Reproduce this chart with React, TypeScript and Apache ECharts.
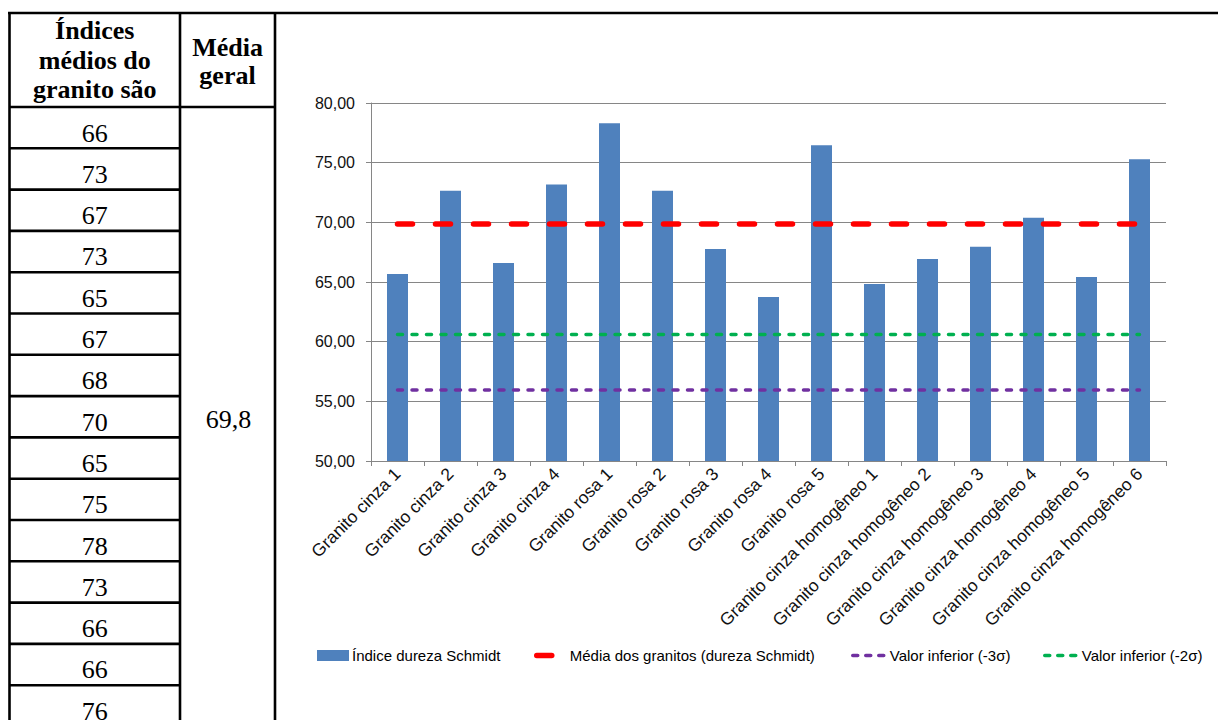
import React, { useEffect, useRef } from "react";
import * as echarts from "echarts";

const categories = [
  "Granito cinza 1",
  "Granito cinza 2",
  "Granito cinza 3",
  "Granito cinza 4",
  "Granito rosa 1",
  "Granito rosa 2",
  "Granito rosa 3",
  "Granito rosa 4",
  "Granito rosa 5",
  "Granito cinza homogêneo 1",
  "Granito cinza homogêneo 2",
  "Granito cinza homogêneo 3",
  "Granito cinza homogêneo 4",
  "Granito cinza homogêneo 5",
  "Granito cinza homogêneo 6",
];

const durezaSchmidt = [65.67, 72.65, 66.59, 73.18, 78.3, 72.65, 67.76, 63.74, 76.45, 64.83, 66.92, 67.96, 70.39, 65.42, 75.28];
const mediaGranitos = [69.87, 69.87, 69.87, 69.87, 69.87, 69.87, 69.87, 69.87, 69.87, 69.87, 69.87, 69.87, 69.87, 69.87, 69.87];
const valorInferior3s = [55.96, 55.96, 55.96, 55.96, 55.96, 55.96, 55.96, 55.96, 55.96, 55.96, 55.96, 55.96, 55.96, 55.96, 55.96];
const valorInferior2s = [60.6, 60.6, 60.6, 60.6, 60.6, 60.6, 60.6, 60.6, 60.6, 60.6, 60.6, 60.6, 60.6, 60.6, 60.6];

const yTicks = { min: 50, max: 80, interval: 5 };

const tableHeader1 = "Índices\nmédios do\ngranito são";
const tableHeader2 = "Média\ngeral";
const tableValues = [66, 73, 67, 73, 65, 67, 68, 70, 65, 75, 78, 73, 66, 66, 76];
const mediaGeral = "69,8";

const seriesNames = [
  "Índice dureza Schmidt",
  "Média dos granitos (dureza Schmidt)",
  "Valor inferior (-3σ)",
  "Valor inferior (-2σ)",
];

const SANS = '"Liberation Sans", Arial, sans-serif';
const SERIF = '"Liberation Serif", "Times New Roman", serif';

export default function App() {
  const ref = useRef<HTMLDivElement>(null);

  useEffect(() => {
    if (!ref.current) return;
    const chart = echarts.init(ref.current, undefined, { renderer: "svg" });

    // table layout
    const tLeft = 9.5;
    const tCol1 = 180;
    const tCol2 = 275;
    const tTop = 13;
    const headerBottom = 107;
    const rowH = 41.3;
    const lineStyle = { stroke: "#000", lineWidth: 2.6 };

    const graphics: any[] = [];
    graphics.push({ type: "line", shape: { x1: 8, y1: tTop, x2: 1218, y2: tTop }, style: lineStyle, silent: true });
    graphics.push({ type: "line", shape: { x1: tLeft, y1: tTop, x2: tLeft, y2: 720 }, style: lineStyle, silent: true });
    graphics.push({ type: "line", shape: { x1: tCol1, y1: tTop, x2: tCol1, y2: 720 }, style: lineStyle, silent: true });
    graphics.push({ type: "line", shape: { x1: tCol2, y1: tTop, x2: tCol2, y2: 720 }, style: lineStyle, silent: true });
    graphics.push({ type: "line", shape: { x1: tLeft, y1: headerBottom, x2: tCol2, y2: headerBottom }, style: lineStyle, silent: true });

    graphics.push({
      type: "text",
      x: (tLeft + tCol1) / 2,
      y: 60,
      style: {
        text: tableHeader1,
        fontFamily: SERIF,
        fontWeight: "bold",
        fontSize: 26,
        lineHeight: 29.5,
        fill: "#000",
        align: "center",
        verticalAlign: "middle",
      },
    });
    graphics.push({
      type: "text",
      x: (tCol1 + tCol2) / 2,
      y: 61,
      style: {
        text: tableHeader2,
        fontFamily: SERIF,
        fontWeight: "bold",
        fontSize: 26,
        lineHeight: 28,
        fill: "#000",
        align: "center",
        verticalAlign: "middle",
      },
    });

    tableValues.forEach((v, i) => {
      const top = headerBottom + i * rowH;
      if (i > 0) {
        graphics.push({ type: "line", shape: { x1: tLeft, y1: top, x2: tCol1, y2: top }, style: lineStyle, silent: true });
      }
      graphics.push({
        type: "text",
        x: (tLeft + tCol1) / 2,
        y: top + 26,
        style: {
          text: String(v),
          fontFamily: SERIF,
          fontSize: 26,
          fill: "#000",
          align: "center",
          verticalAlign: "middle",
        },
      });
    });

    graphics.push({
      type: "text",
      x: (tCol1 + tCol2) / 2 + 1,
      y: 419,
      style: {
        text: mediaGeral,
        fontFamily: SERIF,
        fontSize: 26,
        fill: "#000",
        align: "center",
        verticalAlign: "middle",
      },
    });

    const legendBase = {
      top: 648,
      padding: 0,
      itemGap: 0,
      itemWidth: 32,
      itemHeight: 14,
      textStyle: { fontFamily: SANS, fontSize: 15, color: "#000", padding: [0, 0, 0, -2] },
      selectedMode: false,
    };

    chart.setOption({
      animation: false,
      backgroundColor: "#fff",
      graphic: graphics,
      grid: { left: 371, top: 103, right: 52, bottom: 259, containLabel: false },
      legend: [
        { ...legendBase, left: 317, data: [seriesNames[0]], icon: "rect", itemHeight: 11 },
        {
          ...legendBase,
          left: 534,
          itemWidth: 30,
          data: [seriesNames[1]],
          itemStyle: { opacity: 0 },
          lineStyle: { width: 5.5, type: [15, 23], cap: "round", color: "#FF0000" },
        },
        {
          ...legendBase,
          left: 851,
          itemWidth: 34,
          data: [seriesNames[2]],
          itemStyle: { opacity: 0 },
          lineStyle: { width: 3.5, type: [5, 8], cap: "round", color: "#7030A0" },
        },
        {
          ...legendBase,
          left: 1043,
          itemWidth: 34,
          data: [seriesNames[3]],
          itemStyle: { opacity: 0 },
          lineStyle: { width: 3.5, type: [5, 8], cap: "round", color: "#00B050" },
        },
      ],
      xAxis: {
        type: "category",
        data: categories,
        boundaryGap: true,
        axisLine: { show: true, lineStyle: { color: "#868686", width: 1 } },
        axisTick: { show: true, interval: 0, alignWithLabel: false, length: 5, lineStyle: { color: "#868686" } },
        axisLabel: {
          interval: 0,
          rotate: 45,
          margin: 10,
          fontFamily: SANS,
          fontSize: 17.5,
          color: "#111",
        },
        splitLine: { show: false },
      },
      yAxis: {
        type: "value",
        min: yTicks.min,
        max: yTicks.max,
        interval: yTicks.interval,
        axisLine: { show: true, lineStyle: { color: "#868686", width: 1 } },
        axisTick: { show: true, length: 5, lineStyle: { color: "#868686" } },
        axisLabel: {
          margin: 16,
          fontFamily: SANS,
          fontSize: 16,
          color: "#111",
          formatter: (v: number) => v.toFixed(2).replace(".", ","),
        },
        splitLine: { show: true, lineStyle: { color: "#868686", width: 1 } },
      },
      series: [
        {
          name: seriesNames[0],
          type: "bar",
          data: durezaSchmidt,
          barWidth: 21,
          itemStyle: { color: "#4F81BD" },
        },
        {
          name: seriesNames[1],
          type: "line",
          data: mediaGranitos,
          symbol: "none",
          lineStyle: { color: "#FF0000", width: 5.5, type: [15, 23], cap: "round" },
          itemStyle: { color: "#FF0000" },
          z: 4,
        },
        {
          name: seriesNames[2],
          type: "line",
          data: valorInferior3s,
          symbol: "none",
          lineStyle: { color: "#7030A0", width: 3.5, type: [5, 9.5], cap: "round" },
          itemStyle: { color: "#7030A0" },
          z: 3,
        },
        {
          name: seriesNames[3],
          type: "line",
          data: valorInferior2s,
          symbol: "none",
          lineStyle: { color: "#00B050", width: 3.5, type: [5, 9.5], cap: "round" },
          itemStyle: { color: "#00B050" },
          z: 3,
        },
      ],
    });

    return () => {
      chart.dispose();
    };
  }, []);

  return (
    <div
      ref={ref}
      style={{ position: "fixed", left: 0, top: 0, width: 1218, height: 720, background: "#fff" }}
    />
  );
}
